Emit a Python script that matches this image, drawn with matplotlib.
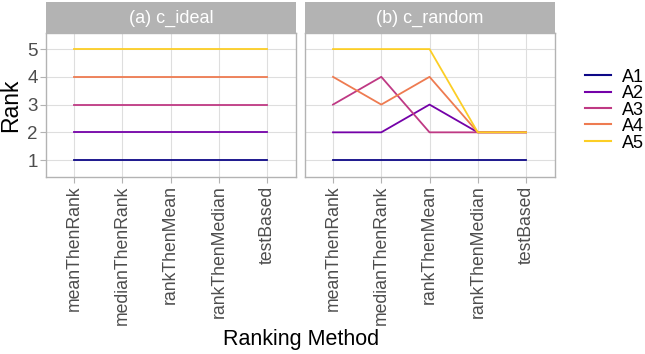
import matplotlib
matplotlib.use("Agg")
import matplotlib.pyplot as plt
from matplotlib.lines import Line2D

plt.rcParams['font.family'] = ['Liberation Sans', 'DejaVu Sans']

methods = ['meanThenRank', 'medianThenRank', 'rankThenMean', 'rankThenMedian', 'testBased']
algos = ['A1', 'A2', 'A3', 'A4', 'A5']
# plasma palette, 5 steps from 0 to 0.9
cmap = plt.get_cmap('plasma')
colors = [cmap(0.9 * k / 4) for k in range(5)]

# ranks per algorithm, one dict per panel
ideal = {
    'A1': [1, 1, 1, 1, 1],
    'A2': [2, 2, 2, 2, 2],
    'A3': [3, 3, 3, 3, 3],
    'A4': [4, 4, 4, 4, 4],
    'A5': [5, 5, 5, 5, 5],
}
rand = {
    'A1': [1, 1, 1, 1, 1],
    'A2': [2, 2, 3, 2, 2],
    'A3': [3, 4, 2, 2, 2],
    'A4': [4, 3, 4, 2, 2],
    'A5': [5, 5, 5, 2, 2],
}
panels = [('(a) c_ideal', ideal), ('(b) c_random', rand)]

W, H = 645, 354
fig = plt.figure(figsize=(W / 100, H / 100), dpi=100)

def frac(x0, y0, x1, y1):
    return [x0 / W, 1 - y1 / H, (x1 - x0) / W, (y1 - y0) / H]

lefts = [46, 305]
pw = 250
for i, (title, data) in enumerate(panels):
    x0 = lefts[i]
    ax = fig.add_axes(frac(x0, 33, x0 + pw, 177))
    for a, c in zip(algos, colors):
        ax.plot(range(len(methods)), data[a], color=c, lw=1.3, zorder=3)
    ax.set_xlim(-0.58, 4.6)
    ax.set_ylim(0.39, 5.58)
    ax.set_yticks([1, 2, 3, 4, 5])
    ax.set_xticks(range(len(methods)))
    ax.set_xticklabels(methods, rotation=90, fontsize=12.7, color='#4D4D4D')
    ax.grid(True, color='#DEDEDE', lw=0.8, zorder=0)
    ax.tick_params(length=4, color='#B3B3B3', pad=2)
    for s in ax.spines.values():
        s.set_color('#B3B3B3')
        s.set_linewidth(1.0)
    if i == 0:
        ax.set_yticklabels(['1', '2', '3', '4', '5'], fontsize=13.5, color='#4D4D4D')
    else:
        ax.set_yticklabels([])
        ax.tick_params(axis='y', length=0)
    sx = fig.add_axes(frac(x0, 2, x0 + pw, 33))
    sx.set_facecolor('#B3B3B3')
    sx.set_xticks([])
    sx.set_yticks([])
    for s in sx.spines.values():
        s.set_visible(False)
    sx.text(0.5, 0.47, title, ha='center', va='center', color='white', fontsize=13,
            transform=sx.transAxes)

fig.text(11 / W, 1 - 105 / H, 'Rank', rotation=90, ha='center', va='center', fontsize=16.5)
fig.text(301 / W, 1 - 340 / H, 'Ranking Method', ha='center', va='center', fontsize=15.5)

# legend drawn by hand so the rows sit close together
for k, (a, c) in enumerate(zip(algos, colors)):
    yy = 1 - (75 + k * 16.5) / H
    fig.add_artist(Line2D([585 / W, 611 / W], [yy, yy], color=c, lw=1.5,
                          transform=fig.transFigure))
    fig.text(622 / W, yy, a, ha='left', va='center_baseline', fontsize=13)

fig.savefig('out.png', dpi=100)
